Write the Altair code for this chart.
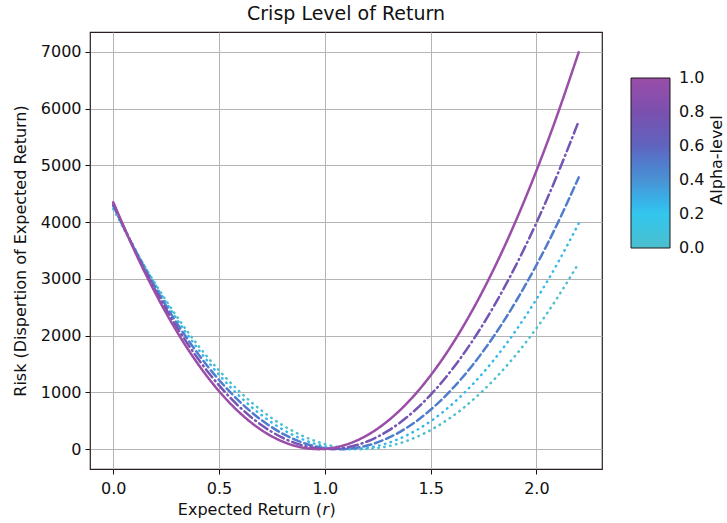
import altair as alt
import pandas as pd

r_vals = [0.0, 0.1, 0.2, 0.3, 0.4, 0.5, 0.6, 0.7, 0.8, 0.9, 1.0, 1.1,
          1.2, 1.3, 1.4, 1.5, 1.6, 1.7, 1.8, 1.9, 2.0, 2.1, 2.2]

risk_a100 = [4350, 3499, 2741, 2075, 1502, 1021, 633, 337, 134, 23, 4, 78,
             245, 503, 855, 1299, 1835, 2464, 3185, 3998, 4905, 5903, 6994]
risk_a075 = [4320, 3514, 2792, 2152, 1596, 1123, 732, 425, 201, 60, 2, 27,
             135, 326, 600, 957, 1397, 1920, 2526, 3215, 3988, 4843, 5781]
risk_a050 = [4293, 3528, 2838, 2223, 1683, 1218, 828, 513, 273, 108, 18, 3,
             63, 198, 408, 693, 1053, 1488, 1998, 2583, 3243, 3978, 4788]
risk_a025 = [4278, 3548, 2886, 2293, 1768, 1311, 922, 602, 349, 165, 49, 1,
             22, 110, 267, 492, 786, 1147, 1577, 2075, 2641, 3275, 3977]
risk_a000 = [4230, 3538, 2907, 2339, 1832, 1387, 1004, 683, 423, 225, 89, 15,
             3, 52, 163, 336, 571, 868, 1226, 1647, 2129, 2673, 3278]

alpha_levels = [0.0, 0.25, 0.5, 0.75, 1.0]
line_styles = ["dot0", "dot1", "dash", "dashdot", "solid"]
series = [risk_a000, risk_a025, risk_a050, risk_a075, risk_a100]

rows = []
for a, s, vals in zip(alpha_levels, line_styles, series):
    for rv, v in zip(r_vals, vals):
        rows.append({"r": rv, "risk": v, "alpha": a, "style": s})
df = pd.DataFrame(rows)

cb_stops = [-0.0005, 0.2, 0.4, 0.6, 0.8, 1.0005]
cb_colors = ["#4cbfce", "#33c6ee", "#4a92d4", "#5f64be", "#7a50ae", "#9a4ea8"]
cb_ticks = [0.0, 0.2, 0.4, 0.6, 0.8, 1.0]

font = "DejaVu Sans"

lines = alt.Chart(df).mark_line(strokeWidth=2.5, strokeCap="round", interpolate="natural").encode(
    x=alt.X("r:Q", scale=alt.Scale(domain=[-0.11, 2.31], nice=False, zero=False),
            axis=alt.Axis(values=[0.0, 0.5, 1.0, 1.5, 2.0], format=".1f", title=None)),
    y=alt.Y("risk:Q", scale=alt.Scale(domain=[-350, 7350], nice=False, zero=False),
            axis=alt.Axis(values=[0, 1000, 2000, 3000, 4000, 5000, 6000, 7000], format="d",
                          title="Risk (Dispertion of Expected Return)")),
    color=alt.Color("alpha:Q",
                    scale=alt.Scale(domain=cb_stops, range=cb_colors),
                    legend=alt.Legend(orient="none", legendX=541, legendY=46,
                                      direction="vertical", title=None,
                                      gradientLength=170, gradientThickness=39,
                                      gradientStrokeColor="#1a1a1a", gradientStrokeWidth=1,
                                      values=cb_ticks, format=".1f",
                                      labelFontSize=16, labelFont=font, labelColor="#111",
                                      labelBaseline="middle",
                                      labelOffset=9, labelOverlap=False, padding=0)),
    strokeDash=alt.StrokeDash("style:N",
                              scale=alt.Scale(domain=line_styles,
                                              range=[[0.5, 5.5], [0.5, 5.5], [8, 4], [10, 4, 1, 4], [1, 0]]),
                              legend=None),
    detail="alpha:N",
    order=alt.Order("alpha:Q"),
)

cb_title = alt.Chart(pd.DataFrame({"t": ["Alpha-level"]})).mark_text(
    angle=270, fontSize=16, font=font, color="#111", align="center", baseline="middle"
).encode(text="t:N", x=alt.value(627), y=alt.value(128))

xt_main = alt.Chart(pd.DataFrame({"t": ["Expected Return ("]})).mark_text(
    fontSize=16, font=font, color="#111", align="right", baseline="middle"
).encode(text="t:N", x=alt.value(232), y=alt.value(478))
xt_r = alt.Chart(pd.DataFrame({"t": ["r"]})).mark_text(
    fontSize=16, font=font, fontStyle="italic", color="#111", align="left", baseline="middle"
).encode(text="t:N", x=alt.value(232.5), y=alt.value(478))
xt_close = alt.Chart(pd.DataFrame({"t": [")"]})).mark_text(
    fontSize=16, font=font, color="#111", align="left", baseline="middle"
).encode(text="t:N", x=alt.value(239.5), y=alt.value(478))

chart = alt.layer(lines, cb_title, xt_main, xt_r, xt_close).properties(
    width=512, height=437,
    autosize="none",
    padding={"left": 90, "top": 32, "right": 125, "bottom": 54},
    title=alt.Title("Crisp Level of Return", fontSize=19, font=font, fontWeight="normal",
                    color="#111", anchor="middle", offset=8),
).configure_view(
    stroke="#2a1e1e", strokeWidth=1.2
).configure_axis(
    grid=True, gridColor="#b4b4b4", gridWidth=1,
    domain=False, ticks=True, tickColor="#111", tickSize=5, tickWidth=1,
    labelFont=font, labelFontSize=16, labelColor="#111",
    titleFont=font, titleFontSize=16, titleColor="#111", titleFontWeight="normal",
).configure_axisY(titlePadding=12, labelPadding=4).configure_axisX(labelPadding=6)

chart.save("out.html", embed_options={"renderer": "svg", "actions": False})
